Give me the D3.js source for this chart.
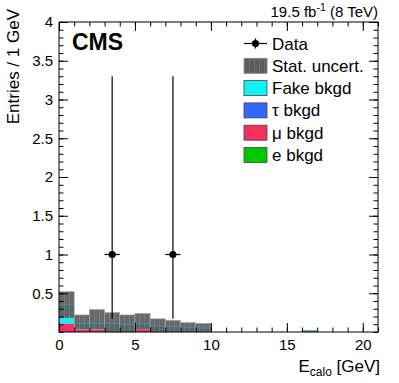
<!DOCTYPE html>
<html><head><meta charset="utf-8">
<script src="https://cdn.jsdelivr.net/npm/d3@7"></script>
<style>
body{margin:0;background:#fff}
svg{display:block}
text{font-family:"Liberation Sans",Arial,Helvetica,sans-serif;fill:#000}
</style>
</head><body>
<svg id="c" width="399" height="383"></svg>
<script>
// ---- data ----
const binLow     = [0,1,2,3,4,5,6,7,8,9,10,11,12,13,14,15,16,17,18,19,20];
const eBkgd      = [0,0,0,0,0,0,0,0,0,0,0,0,0,0,0,0,0,0,0,0,0];
const muBkgd     = [0.11,0.035,0.035,0.03,0.03,0.04,0.03,0.02,0.02,0.02,0,0,0,0,0,0,0.005,0,0,0,0];
const tauBkgd    = [0,0,0,0,0,0,0,0,0,0,0,0,0,0,0,0,0,0,0,0,0];
const fakeBkgd   = [0.24,0.075,0.075,0.08,0.07,0.065,0.05,0.05,0.04,0.03,0,0,0,0,0,0,0.005,0,0,0,0];
const statLow    = [0.18,0.035,0.035,0.0,0.0,0.035,0.0,0.0,0.0,0.0,0,0,0,0,0,0,0.0,0,0,0,0];
const statHigh   = [0.52,0.22,0.29,0.25,0.22,0.24,0.17,0.15,0.12,0.11,0,0,0,0,0,0,0.02,0,0,0,0];
const dataX      = [3.5,7.5];
const dataY      = [1,1];
const dataErrLo  = [0.83,0.83];
const dataErrHi  = [2.30,2.30];
const xMajorTicks = [0,5,10,15,20];
const yMajorTicks = [0.5,1,1.5,2,2.5,3,3.5,4];
const yTickLabels = ["0.5","1","1.5","2","2.5","3","3.5","4"];
const legendLabels = ["Data","Stat. uncert.","Fake bkgd","\u03c4 bkgd","\u03bc bkgd","e bkgd"];
const colors = {fake:"#12f2f2", tau:"#3366ff", mu:"#f5305f", e:"#00c800"};

// ---- layout ----
const svg = d3.select("#c");
const L=59, R=378, T=22, B=332;
const x = d3.scaleLinear().domain([0,21]).range([L,R]);
const y = d3.scaleLinear().domain([0,4]).range([B,T]);

const defs = svg.append("defs");
const pat = defs.append("pattern").attr("id","hatch").attr("patternUnits","userSpaceOnUse")
  .attr("width",5).attr("height",5);
pat.append("rect").attr("width",5).attr("height",5).attr("fill","#5c5c5c");
pat.append("rect").attr("x",4).attr("width",1).attr("height",5).attr("fill","#707070");

// stacked histogram
const rows = binLow.map((b,i)=>({b, e:eBkgd[i], mu:muBkgd[i], tau:tauBkgd[i], fake:fakeBkgd[i]}));
const stack = d3.stack().keys(["e","mu","tau","fake"])(rows);
const gStack = svg.append("g");
stack.forEach(layer=>{
  gStack.selectAll(null).data(layer.filter(d=>d[1]-d[0]>0)).enter().append("rect")
    .attr("x",d=>x(d.data.b)).attr("width",d=>x(d.data.b+1)-x(d.data.b))
    .attr("y",d=>y(d[1])).attr("height",d=>y(d[0])-y(d[1]))
    .attr("fill",colors[layer.key]);
});
const totals = rows.map(r=>({b:r.b,t:r.e+r.mu+r.tau+r.fake}));

// stat band
svg.append("g").selectAll("rect").data(binLow.map((b,i)=>({b,lo:statLow[i],hi:statHigh[i]})).filter(d=>d.hi>d.lo))
  .enter().append("rect")
  .attr("x",d=>x(d.b)).attr("width",d=>x(d.b+1)-x(d.b))
  .attr("y",d=>y(d.hi)).attr("height",d=>y(d.lo)-y(d.hi))
  .attr("fill","url(#hatch)").attr("fill-opacity",0.93)
  .attr("stroke","#a0a0a0").attr("stroke-width",0.6);

svg.append("g").selectAll("line").data(totals.filter(d=>d.t>0)).enter().append("line")
  .attr("x1",d=>x(d.b)).attr("x2",d=>x(d.b+1)).attr("y1",d=>y(d.t)).attr("y2",d=>y(d.t))
  .attr("stroke","#2fb8b8").attr("stroke-width",0.7).attr("opacity",0.7);

// data
const gd = svg.append("g");
dataX.forEach((dx,i)=>{
  gd.append("line").attr("x1",x(dx)).attr("x2",x(dx)).attr("y1",y(dataY[i]-dataErrLo[i])).attr("y2",y(dataY[i]+dataErrHi[i]))
    .attr("stroke","#000").attr("stroke-width",1.2);
  gd.append("line").attr("x1",x(dx-0.5)).attr("x2",x(dx+0.5)).attr("y1",y(dataY[i])).attr("y2",y(dataY[i]))
    .attr("stroke","#000").attr("stroke-width",1.2);
  gd.append("circle").attr("cx",x(dx)).attr("cy",y(dataY[i])).attr("r",3.6).attr("fill","#000");
});

// axes
function styleAxis(g){ g.select(".domain").remove(); g.selectAll("line").attr("stroke","#000"); g.selectAll("text").style("font-size","15px").attr("font-family","Liberation Sans, Arial, sans-serif"); }
const xMinor = binLow.concat([21]);
const yMinor = d3.range(0,40).map(i=>i/10);
svg.append("g").attr("transform",`translate(0,${B})`).call(d3.axisBottom(x).tickValues(xMinor).tickSize(-4.5).tickFormat("")).call(styleAxis);
svg.append("g").attr("transform",`translate(0,${B})`).call(d3.axisBottom(x).tickValues(xMajorTicks).tickSize(-9).tickPadding(7).tickFormat(d3.format("d"))).call(styleAxis);
svg.append("g").attr("transform",`translate(0,${T})`).call(d3.axisTop(x).tickValues(xMinor).tickSize(-4.5).tickFormat("")).call(styleAxis);
svg.append("g").attr("transform",`translate(0,${T})`).call(d3.axisTop(x).tickValues(xMajorTicks).tickSize(-9).tickFormat("")).call(styleAxis);
svg.append("g").attr("transform",`translate(${L},0)`).call(d3.axisLeft(y).tickValues(yMinor).tickSize(-4.5).tickFormat("")).call(styleAxis);
svg.append("g").attr("transform",`translate(${L},0)`).call(d3.axisLeft(y).tickValues(yMajorTicks).tickSize(-9).tickPadding(6).tickFormat((d,i)=>yTickLabels[i])).call(styleAxis);
svg.append("g").attr("transform",`translate(${R},0)`).call(d3.axisRight(y).tickValues(yMinor).tickSize(-4.5).tickFormat("")).call(styleAxis);
svg.append("g").attr("transform",`translate(${R},0)`).call(d3.axisRight(y).tickValues(yMajorTicks).tickSize(-9).tickFormat("")).call(styleAxis);

// frame
svg.append("rect").attr("x",L).attr("y",T).attr("width",R-L).attr("height",B-T)
  .attr("fill","none").attr("stroke","#000").attr("stroke-width",1);

// titles
svg.append("text").attr("transform",`translate(19,9) rotate(-90)`).attr("text-anchor","end")
  .style("font-size","17px").text("Entries / 1 GeV");
const xt = svg.append("text").attr("x",R+2).attr("y",372).attr("text-anchor","end").style("font-size","17px");
xt.append("tspan").text("E");
xt.append("tspan").attr("dy",4).style("font-size","12px").text("calo");
xt.append("tspan").attr("dy",-4).text(" [GeV]");

const lt = svg.append("text").attr("x",R).attr("y",17).attr("text-anchor","end").style("font-size","15px");
lt.append("tspan").text("19.5 fb");
lt.append("tspan").attr("dy",-6).style("font-size","10.5px").text("-1");
lt.append("tspan").attr("dy",6).text(" (8 TeV)");

svg.append("text").attr("x",72).attr("y",50).style("font-size","23px").style("font-weight","bold").text("CMS");

// legend
const lx0=244, lx1=267, ly0=43.5, lstep=22.3;
const lg = svg.append("g");
legendLabels.forEach((lab,i)=>{
  const cy = ly0+i*lstep;
  if(i===0){
    lg.append("line").attr("x1",lx0).attr("x2",lx1).attr("y1",cy).attr("y2",cy).attr("stroke","#000").attr("stroke-width",1.2);
    lg.append("line").attr("x1",(lx0+lx1)/2).attr("x2",(lx0+lx1)/2).attr("y1",cy-5).attr("y2",cy+5).attr("stroke","#000").attr("stroke-width",1.2);
    lg.append("circle").attr("cx",(lx0+lx1)/2).attr("cy",cy).attr("r",3.6).attr("fill","#000");
  } else {
    const fill = i===1 ? "url(#hatch)" : [null,null,colors.fake,colors.tau,colors.mu,colors.e][i];
    lg.append("rect").attr("x",lx0).attr("y",cy-7.5).attr("width",lx1-lx0).attr("height",15)
      .attr("fill",fill).attr("stroke",i===1?"#888":"#444").attr("stroke-width",0.8);
  }
  lg.append("text").attr("x",272).attr("y",cy+6).style("font-size","17px").text(lab);
});
</script>
</body></html>
